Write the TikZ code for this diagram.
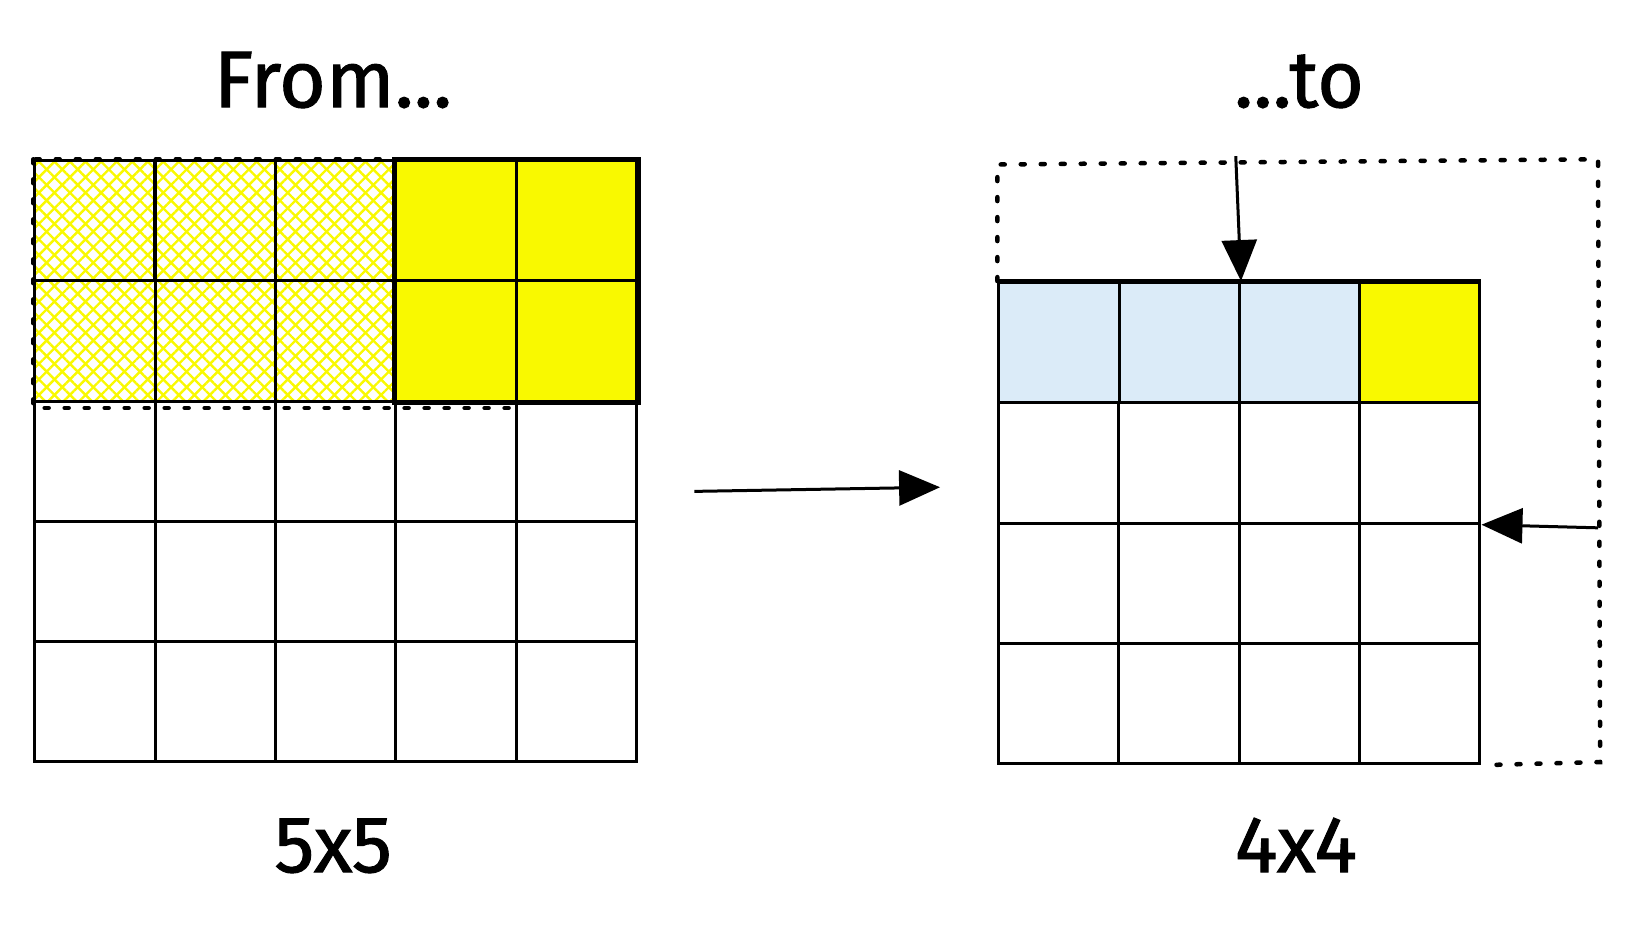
\documentclass[tikz,border=0pt]{standalone}
\usepackage{fontspec}
\setmainfont{Fira Sans}
\newfontfamily\handfont[FakeBold=1.2]{Fira Sans}
\usetikzlibrary{arrows.meta,patterns.meta,positioning}
\definecolor{hlyellow}{HTML}{F9F900}
\definecolor{hlblue}{HTML}{DBEBF8}

\begin{document}
\begin{tikzpicture}[x=1pt, y=-1pt, scale=1.041, every node/.append style={transform shape}]
  \tikzstyle{cell} = [rectangle, draw, line width=3pt, minimum width=115.6pt, minimum height=115.4pt,
                      inner sep=0pt, anchor=north west]
  \tikzstyle{rcell} = [cell, minimum width=115.5pt, minimum height=115.5pt]
  \tikzstyle{hatch} = [preaction={pattern={Lines[angle=45,distance=11pt,line width=2.4pt]}, pattern color=hlyellow},
                       pattern={Lines[angle=-45,distance=11pt,line width=2.4pt]}, pattern color=hlyellow]
  \tikzstyle{dotline} = [line width=4.5pt, line cap=round, dash pattern=on 4pt off 16pt]
  \tikzstyle{arr} = [line width=3pt, -{Triangle[length=41pt, width=35pt]}]
  \tikzstyle{title} = [font=\fontsize{77}{92}\handfont, anchor=base, inner sep=0pt]

\useasboundingbox (0,0) rectangle (1567,895);

% from: 5x5 grid
\foreach \r in {0,...,4}
  \foreach \c in {0,...,4}
    \node[cell] (a\r\c) at ({32+\c*115.6},{153+\r*115.4}) {};
\foreach \r in {0,1}
  \foreach \c in {0,1,2}
    \node[cell, hatch] (h\r\c) at (a\r\c.north west) {};
\draw[dotline] (a00.north west) rectangle ([yshift=-5pt]a13.south east);
\foreach \r in {0,1}
  \foreach \c in {3,4}
    \node[cell, fill=hlyellow] (y\r\c) at (a\r\c.north west) {};
\draw[line width=5.5pt] (a03.north west) rectangle (a14.south east);

% to: 4x4 grid
\foreach \r in {0,...,3}
  \foreach \c in {0,...,3}
    \node[rcell] (b\r\c) at ({958+\c*115.5},{270+\r*115.5}) {};
\foreach \c in {0,1,2}
  \node[rcell, fill=hlblue] (t\c) at (b0\c.north west) {};
\node[rcell, fill=hlyellow] (t3) at (b03.north west) {};
\draw[line width=4.5pt] (b00.north west) -- (b03.north east);

% padding outline
\coordinate (boxTL) at (958,158);
\coordinate (boxTR) at (1535,153);
\coordinate (boxBR) at (1537,732);
\draw[dotline] (b00.north west) -- (boxTL) -- (boxTR) -- (boxBR) -- (b33.south east);

% arrows
\coordinate (mstart) at (667,472);
\coordinate (mend) at (903,468);
\coordinate (dstart) at (1187,150);
\coordinate (rstart) at (1535,507);
\draw[arr] (mstart) -- (mend);
\draw[arr] (dstart) -- (b01.north east);
\draw[arr] (rstart) -- (b13.south east);

% labels
\node[title] (from) at (320,103) {From...};
\node[title] (to) at (1248,103) {...to};
\node[title] (five) at (320,838) {5x5};
\node[title] (four) at (1245,838) {4x4};
\end{tikzpicture}
\end{document}
